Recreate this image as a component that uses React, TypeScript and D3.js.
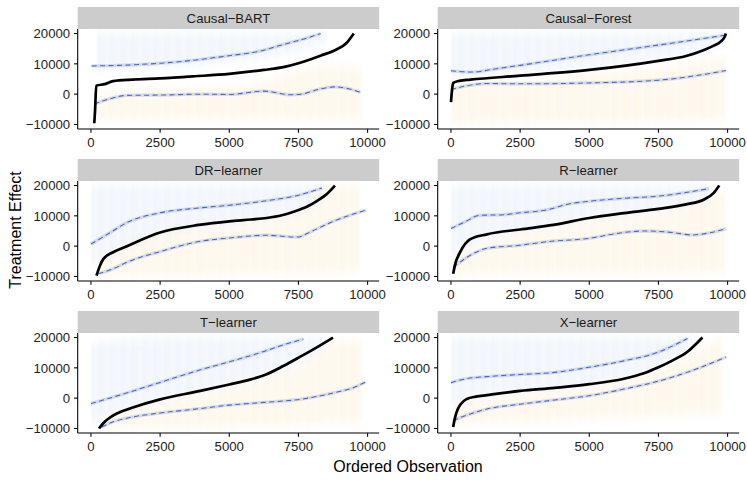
import * as d3 from 'd3'

type Pt = [number, number]
type Band = [number, number, number]

const LEARNERS = ['Causal−BART', 'Causal−Forest', 'DR−learner', 'R−learner', 'T−learner', 'X−learner']
const OBS_TICKS = [0, 2500, 5000, 7500, 10000]
const EFFECT_TICKS = [-10000, 0, 10000, 20000]

// ordered CATE estimates [observation, effect]
const bartEstimate: Pt[] = [[120, -9600], [150, -5000], [190, 2800], [500, 3300], [800, 4300], [1500, 4800], [2500, 5200], [3750, 5900], [5000, 6700], [6250, 8000], [7000, 9000], [7500, 10200], [8000, 11700], [8300, 12700], [8800, 14400], [9270, 17200], [9500, 20000]]
const forestEstimate: Pt[] = [[0, -2600], [40, 1500], [80, 3700], [300, 4400], [700, 4800], [2500, 6100], [5000, 8000], [7500, 11000], [8500, 12600], [9150, 14600], [9500, 16000], [9760, 17400], [9900, 19000], [9940, 20000]]
const drEstimate: Pt[] = [[200, -9700], [300, -7000], [450, -4200], [800, -2000], [1300, 0], [2500, 4500], [3900, 7000], [5000, 8200], [5800, 8800], [6350, 9300], [6900, 10200], [7300, 11300], [7800, 13000], [8150, 14800], [8500, 17000], [8820, 20000]]
const rEstimate: Pt[] = [[80, -9100], [150, -6000], [330, -2000], [700, 2300], [1300, 3900], [2500, 5500], [3700, 7000], [5000, 9300], [6250, 10900], [7500, 12300], [8500, 13800], [9150, 15400], [9500, 17600], [9700, 20000]]
const tEstimate: Pt[] = [[290, -10000], [450, -8200], [700, -6300], [1000, -4800], [1540, -3000], [2500, -400], [3900, 2300], [5000, 4500], [5750, 6100], [6350, 7900], [6950, 10600], [7550, 13600], [8150, 16700], [8750, 20000]]
const xEstimate: Pt[] = [[80, -9500], [120, -7500], [200, -4700], [350, -2000], [570, -300], [900, 500], [1300, 1000], [2500, 2400], [3750, 3400], [5000, 4600], [6250, 6400], [7000, 8300], [7500, 10200], [8000, 12400], [8550, 15300], [9090, 20000]]

// smoothed upper bounds
const bartUpper: Pt[] = [[20, 9300], [1000, 9500], [2500, 10200], [4000, 11500], [5000, 12700], [6000, 14000], [7000, 16500], [7800, 18500], [8300, 20000]]
const forestUpper: Pt[] = [[0, 7700], [800, 7300], [1500, 8200], [2500, 9500], [5000, 13000], [7500, 16200], [9940, 19500]]
const drUpper: Pt[] = [[0, 700], [700, 4500], [1300, 7800], [2500, 11000], [3900, 12600], [5000, 13500], [6350, 15000], [7500, 16800], [8350, 19200]]
const rUpper: Pt[] = [[0, 5800], [500, 8000], [1050, 10200], [1800, 10300], [2500, 11000], [3470, 12000], [4300, 14000], [5000, 14800], [6250, 15800], [7500, 16500], [9330, 19000]]
const tUpper: Pt[] = [[0, -1800], [1250, 1600], [2500, 5200], [3900, 9200], [5000, 12000], [6250, 15400], [7000, 17700], [7680, 19500]]
const xUpper: Pt[] = [[0, 5100], [600, 6500], [1300, 7100], [2500, 7800], [3750, 8500], [5000, 10200], [6250, 12300], [7500, 15200], [8550, 19700]]

// smoothed lower bounds
const bartLower: Pt[] = [[120, -3200], [700, -1500], [1300, -400], [2500, -300], [4000, 0], [5000, -100], [6250, 1000], [7200, -200], [7600, 0], [8200, 1500], [8800, 2400], [9300, 1800], [9750, 600]]
const forestLower: Pt[] = [[0, 1500], [600, 2800], [1300, 3500], [2500, 3400], [5000, 3700], [7500, 4600], [9000, 6300], [9940, 7800]]
const drLower: Pt[] = [[270, -9100], [800, -7500], [1300, -5300], [2500, -1800], [3900, 1500], [5000, 2700], [6350, 3600], [7450, 3000], [8000, 5000], [8760, 8200], [9950, 11900]]
const rLower: Pt[] = [[80, -7000], [700, -3000], [1300, -700], [2500, 300], [3500, 1500], [5000, 2600], [6000, 4200], [7000, 5000], [8000, 4500], [8700, 3700], [9400, 4500], [9950, 5800]]
const tLower: Pt[] = [[390, -9500], [800, -7800], [1300, -6600], [2500, -4900], [3900, -3500], [5000, -2300], [6250, -1400], [7550, -400], [8800, 1800], [9500, 3500], [9920, 5300]]
const xLower: Pt[] = [[80, -7400], [700, -5200], [1300, -3600], [2500, -2000], [3750, -600], [5000, 800], [6250, 3000], [7500, 5600], [8750, 9200], [9950, 13600]]

// faint interval clouds [observation, low, high]
const bartBlue: Band[] = [[200, 8000, 20000], [2500, 8500, 20000], [5000, 10500, 20000], [7000, 13000, 20000], [8500, 17000, 20000]]
const forestBlue: Band[] = [[0, 5000, 20000], [2500, 6500, 20000], [5000, 8500, 20000], [7500, 11500, 20000], [9900, 16000, 20000]]
const drBlue: Band[] = [[0, -6000, 20000], [1300, -1000, 20000], [2500, 3000, 20000], [5000, 7000, 20000], [7500, 10500, 20000], [8400, 15000, 20000]]
const rBlue: Band[] = [[0, -4000, 20000], [1300, 2000, 20000], [2500, 4500, 20000], [5000, 8500, 20000], [7500, 11500, 20000], [9400, 15000, 20000]]
const tBlue: Band[] = [[0, -8000, 18000], [2500, -1000, 20000], [5000, 4000, 20000], [7500, 11000, 20000], [8700, 18000, 20000]]
const xBlue: Band[] = [[0, -2000, 20000], [2500, 2000, 20000], [5000, 4000, 20000], [7500, 10000, 20000], [9000, 19000, 20000]]

const bartOrange: Band[] = [[300, -8500, 0], [2500, -8500, 1500], [5000, -8500, 2500], [6500, -8500, 5000], [7500, -8500, 8000], [8800, -8500, 9500], [9800, -8500, 8000]]
const forestOrange: Band[] = [[0, -10000, 4000], [2500, -9500, 5000], [5000, -9500, 7000], [7500, -9000, 9000], [9900, -8500, 12000]]
const drOrange: Band[] = [[300, -10000, -3000], [2500, -10000, 5000], [5000, -9500, 8000], [7500, -9000, 12000], [8500, -9000, 20000], [9700, -8000, 20000]]
const rOrange: Band[] = [[100, -10000, -2000], [2500, -9000, 5000], [5000, -9000, 9000], [7500, -9000, 12000], [9900, -8500, 18000]]
const tOrange: Band[] = [[300, -10000, -7000], [2500, -10000, -500], [5000, -9500, 4500], [7500, -9000, 11000], [9000, -8000, 19000], [9800, -8000, 19000]]
const xOrange: Band[] = [[100, -9000, -1000], [2500, -8000, 2000], [5000, -7000, 4500], [7500, -6000, 10000], [9800, -5000, 20000]]

const ESTIMATES = [bartEstimate, forestEstimate, drEstimate, rEstimate, tEstimate, xEstimate]
const UPPERS = [bartUpper, forestUpper, drUpper, rUpper, tUpper, xUpper]
const LOWERS = [bartLower, forestLower, drLower, rLower, tLower, xLower]
const BLUES = [bartBlue, forestBlue, drBlue, rBlue, tBlue, xBlue]
const ORANGES = [bartOrange, forestOrange, drOrange, rOrange, tOrange, xOrange]

const W = 747
const H = 483
const COL_X = [77.7, 437.7]
const ROW_Y = [7, 159, 311]
const PANEL_W = 301.5
const STRIP_H = 22
const PANEL_H = 100
const FONT = '"Liberation Sans", Arial, Helvetica, sans-serif'

const fmt = (v: number) => (v < 0 ? '−' + Math.abs(v) : String(v))

function Panel({ i }: { i: number }) {
  const left = COL_X[i % 2]
  const top = ROW_Y[Math.floor(i / 2)] + STRIP_H
  const x = d3.scaleLinear().domain([-480, 10420]).range([0, PANEL_W])
  const y = d3.scaleLinear().domain([-11500, 21500]).range([PANEL_H, 0])

  const line = d3.line<Pt>().x((d) => x(d[0])).y((d) => y(d[1])).curve(d3.curveMonotoneX)
  const band = d3
    .area<Band>()
    .x((d) => x(d[0]))
    .y0((d) => y(d[1]))
    .y1((d) => y(d[2]))
    .curve(d3.curveMonotoneX)

  return (
    <g transform={`translate(${left},${top})`}>
      <rect x={0} y={-STRIP_H} width={PANEL_W} height={STRIP_H} fill="#cccccc" />
      <text x={PANEL_W / 2} y={-5.7} textAnchor="middle" fontSize={13.2} fill="#1a1a1a">
        {LEARNERS[i]}
      </text>

      <g filter="url(#soft)">
        <path d={band(BLUES[i]) || ''} fill="url(#streakBlue)" opacity={0.11} />
        <path d={band(ORANGES[i]) || ''} fill="url(#streakOrange)" opacity={0.1} />
      </g>

      {[UPPERS[i], LOWERS[i]].map((pts, k) => (
        <g key={k}>
          <path d={line(pts) || ''} fill="none" stroke="#9a9a9a" strokeOpacity={0.32} strokeWidth={3.3} />
          <path d={line(pts) || ''} fill="none" stroke="#3366FF" strokeWidth={1.05} strokeDasharray="5,3.5" />
        </g>
      ))}

      <path d={line(ESTIMATES[i]) || ''} fill="none" stroke="#000" strokeWidth={2.7} strokeLinejoin="round" />

      {/* axes */}
      <line x1={0} x2={0} y1={0} y2={PANEL_H} stroke="#000" strokeWidth={1.07} />
      <line x1={0} x2={PANEL_W} y1={PANEL_H} y2={PANEL_H} stroke="#000" strokeWidth={1.07} />
      {EFFECT_TICKS.map((t) => (
        <g key={t} transform={`translate(0,${y(t)})`}>
          <line x1={-3.7} x2={0} stroke="#000" strokeWidth={1.07} />
          <text x={-7.5} dy="0.36em" textAnchor="end" fontSize={13.2} fill="#222">
            {fmt(t)}
          </text>
        </g>
      ))}
      {OBS_TICKS.map((t) => (
        <g key={t} transform={`translate(${x(t)},${PANEL_H})`}>
          <line y1={0} y2={3.7} stroke="#000" strokeWidth={1.07} />
          <text y={18} textAnchor="middle" fontSize={13.2} fill="#222">
            {fmt(t)}
          </text>
        </g>
      ))}
    </g>
  )
}

export default function App() {
  return (
    <svg
      width={W}
      height={H}
      style={{ position: 'absolute', left: 0, top: 0, background: '#fff' }}
      fontFamily={FONT}
    >
      <defs>
        <filter id="soft" x="-5%" y="-10%" width="110%" height="120%">
          <feGaussianBlur stdDeviation="0.9 4" />
        </filter>
        <pattern id="streakBlue" width={11} height={10} patternUnits="userSpaceOnUse">
          <rect x={0} y={0} width={2} height={10} fill="#4f97d8" />
          <rect x={2} y={0} width={1.5} height={10} fill="#4f97d8" opacity={0.5} />
          <rect x={3.5} y={0} width={2.5} height={10} fill="#4f97d8" opacity={0.8} />
          <rect x={6} y={0} width={1.5} height={10} fill="#4f97d8" opacity={0.35} />
          <rect x={7.5} y={0} width={3.5} height={10} fill="#4f97d8" opacity={0.65} />
        </pattern>
        <pattern id="streakOrange" width={11} height={10} patternUnits="userSpaceOnUse">
          <rect x={0} y={0} width={2} height={10} fill="#efa52e" />
          <rect x={2} y={0} width={1.5} height={10} fill="#efa52e" opacity={0.5} />
          <rect x={3.5} y={0} width={2.5} height={10} fill="#efa52e" opacity={0.8} />
          <rect x={6} y={0} width={1.5} height={10} fill="#efa52e" opacity={0.35} />
          <rect x={7.5} y={0} width={3.5} height={10} fill="#efa52e" opacity={0.65} />
        </pattern>
      </defs>
      <rect width={W} height={H} fill="#fff" />
      {LEARNERS.map((_, i) => (
        <Panel key={i} i={i} />
      ))}
      <text
        transform={`translate(21,230) rotate(-90)`}
        textAnchor="middle"
        fontSize={16}
        fill="#000"
      >
        Treatment Effect
      </text>
      <text x={408} y={472} textAnchor="middle" fontSize={16} fill="#000">
        Ordered Observation
      </text>
    </svg>
  )
}
